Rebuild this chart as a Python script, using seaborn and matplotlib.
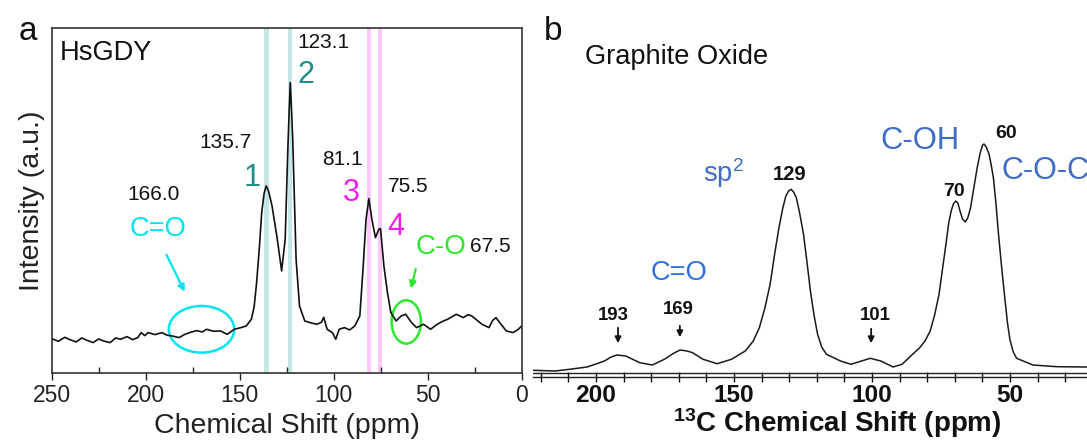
import numpy as np
import pandas as pd
import matplotlib
matplotlib.use('Agg')
import matplotlib.pyplot as plt
import seaborn as sns
from matplotlib.patches import Ellipse

# ---------------- Panel a : HsGDY spectrum ----------------
a_ppm = [250.0, 246.5, 243.0, 240.8, 237.0, 234.0, 231.7, 228.0, 225.0, 222.5,
         218.9, 216.0, 213.4, 210.0, 207.0, 204.2, 202.4, 200.5, 198.7, 195.0,
         191.4, 188.5, 185.9, 182.2, 179.5, 176.7, 173.0, 170.0, 167.6, 164.0,
         160.3, 156.6, 152.9, 149.3, 146.5, 143.8, 142.3, 141.0, 139.5, 138.3,
         137.0, 135.9, 134.6, 132.8, 130.0, 127.7, 125.8, 124.4, 123.6, 123.1,
         122.5, 121.8, 120.0, 118.2, 115.4, 112.6, 109.0, 106.5, 105.3, 103.5,
         100.7, 98.9, 97.1, 94.3, 91.5, 88.8, 86.1, 84.3, 82.8, 81.3,
         79.7, 77.8, 76.0, 75.1, 73.3, 71.4, 69.6, 66.8, 64.1, 61.7,
         58.6, 55.9, 52.2, 48.5, 44.9, 42.0, 39.4, 34.8, 31.1, 28.5,
         26.6, 23.5, 21.1, 17.4, 15.5, 13.7, 11.0, 8.2, 4.6, 1.8, 0.0]
a_int = [10.4, 9.6, 10.8, 10.2, 9.4, 10.6, 10.0, 9.2, 10.3, 9.7,
         9.2, 10.6, 10.2, 11.0, 10.1, 10.7, 12.2, 11.3, 12.2, 11.6,
         12.2, 11.4, 11.2, 10.7, 11.6, 12.2, 12.8, 12.4, 13.2, 12.6,
         12.7, 11.7, 13.2, 13.7, 14.2, 16.2, 20.0, 27.2, 38.0, 48.2,
         54.0, 56.2, 54.5, 50.2, 40.2, 30.7, 40.2, 67.2, 80.0, 87.2,
         80.0, 70.2, 34.2, 20.2, 15.7, 15.2, 14.7, 15.3, 16.8, 13.2,
         12.2, 10.2, 13.2, 13.7, 13.0, 14.2, 17.2, 32.2, 46.2, 52.4,
         46.2, 40.7, 43.2, 43.4, 32.2, 24.2, 18.2, 15.7, 17.2, 17.7,
         15.2, 13.7, 14.7, 13.2, 14.7, 15.6, 16.2, 17.7, 16.7, 17.6,
         17.2, 15.8, 14.7, 13.7, 15.8, 16.7, 14.7, 12.7, 12.2, 13.2, 14.2]
a_teal_lines = [135.7, 123.1]
a_pink_lines = [81.1, 75.5]
a_xticks = [250, 200, 150, 100, 50, 0]

# ---------------- Panel b : Graphite oxide spectrum ----------------
b_ppm = [223.0, 214.7, 209.6, 203.2, 199.5, 196.9, 194.5, 192.4, 189.2, 184.1,
         179.6, 175.2, 172.0, 169.5, 167.0, 165.0, 161.2, 156.1, 150.9, 145.9,
         143.0, 140.8, 138.8, 136.9, 135.2, 133.7, 132.3, 131.2, 130.2, 129.3,
         128.4, 127.4, 126.2, 124.8, 123.5, 122.3, 121.0, 119.7, 118.2, 116.5,
         111.4, 107.6, 103.8, 100.6, 96.8, 92.3, 89.1, 85.3, 82.7, 80.8,
         78.9, 77.3, 75.7, 74.4, 73.2, 72.2, 71.3, 70.5, 69.7, 68.9,
         68.1, 67.2, 66.2, 65.3, 64.3, 63.1, 61.9, 60.8, 59.9, 59.4,
         58.6, 57.6, 56.8, 56.0, 55.1, 54.2, 53.0, 51.8, 50.9, 50.0,
         48.8, 47.6, 41.7, 33.1, 22.1]
b_int = [2.7, 2.0, 3.7, 6.0, 9.5, 12.0, 16.0, 18.0, 17.0, 10.3,
         8.0, 13.7, 19.5, 23.0, 22.0, 20.3, 13.7, 9.3, 13.7, 22.0,
         32.0, 45.3, 65.0, 88.7, 120.0, 145.3, 165.0, 177.0, 182.0, 183.7,
         181.0, 175.3, 160.0, 138.7, 110.0, 82.0, 58.0, 38.7, 26.0, 18.7,
         12.0, 8.7, 12.0, 14.7, 12.0, 6.0, 8.7, 18.7, 25.3, 32.0,
         42.0, 58.0, 78.7, 105.0, 128.7, 150.0, 162.0, 169.0, 172.0, 170.0,
         162.0, 154.0, 151.0, 155.0, 165.0, 185.0, 205.0, 220.0, 228.0, 229.0,
         226.0, 219.0, 208.0, 195.0, 170.0, 140.0, 105.0, 73.0, 50.0, 33.0,
         21.0, 14.7, 8.0, 6.3, 6.0]
b_xticks = [200, 150, 100, 50]

sns.set_theme(style='white')
plt.rcParams['font.family'] = ['Liberation Sans', 'DejaVu Sans']
plt.rcParams['mathtext.default'] = 'regular'

W, H = 1087, 447
fig = plt.figure(figsize=(W / 100, H / 100), dpi=100)
axa = fig.add_axes([51.7 / W, (H - 373.3) / H, 470 / W, 345.8 / H])
axb = fig.add_axes([533 / W, (H - 376.5) / H, 554 / W, 348.5 / H])

# ---------------- Panel a ----------------
dfa = pd.DataFrame({'ppm': a_ppm, 'int': a_int})
for c in a_teal_lines:
    axa.axvspan(c - 1.15, c + 1.15, color='#c6e6e4', zorder=0, lw=0)
for c in a_pink_lines:
    axa.axvspan(c - 1.15, c + 1.15, color='#fbc9f7', zorder=0, lw=0)
sns.lineplot(data=dfa, x='ppm', y='int', sort=False, estimator=None,
             color='#111111', lw=1.2, ax=axa)
axa.set_xlim(250, 0)
axa.set_ylim(0, 103.7)
axa.set_xticks(a_xticks)
axa.set_xticks([225, 175, 125, 75, 25], minor=True)
axa.set_yticks([])
axa.tick_params(axis='x', which='major', direction='out', length=5, width=1,
                labelsize=16.5, pad=3, colors='#222222', bottom=True)
axa.tick_params(axis='x', which='minor', direction='in', length=4, width=1,
                bottom=True)
for s in axa.spines.values():
    s.set_visible(True)
    s.set_color('#333333')
    s.set_linewidth(1.2)
axa.set_xlabel('Chemical Shift (ppm)', fontsize=20.5, labelpad=4, color='#222222')
axa.set_ylabel('Intensity (a.u.)', fontsize=20.5, labelpad=5, color='#222222')

teal = '#1e8f8c'
mag = '#f21de8'
cyan = '#00e4f0'
green = '#2ee82e'
axa.text(0.018, 0.925, 'HsGDY', transform=axa.transAxes, fontsize=19.6,
         ha='left', va='center', color='#111111')
axa.text(119.2, 99.2, '123.1', fontsize=15, ha='left', va='center', color='#111111')
axa.text(119.2, 89.6, '2', fontsize=22, ha='left', va='center', color=teal)
axa.text(171.4, 69.2, '135.7', fontsize=15, ha='left', va='center', color='#111111')
axa.text(143.4, 58.7, '1', fontsize=22, ha='center', va='center', color=teal)
axa.text(209.9, 53.6, '166.0', fontsize=15, ha='left', va='center', color='#111111')
axa.text(208.8, 43.2, 'C=O', fontsize=19.6, ha='left', va='center', color=cyan)
axa.text(106.0, 64.1, '81.1', fontsize=15, ha='left', va='center', color='#111111')
axa.text(95.0, 54.2, '3', fontsize=22, ha='left', va='center', color=mag)
axa.text(71.4, 56.0, '75.5', fontsize=15, ha='left', va='center', color='#111111')
axa.text(71.4, 43.8, '4', fontsize=22, ha='left', va='center', color=mag)
axa.text(56.6, 37.8, 'C-O', fontsize=20, ha='left', va='center', color=green)
axa.text(27.5, 38.1, '67.5', fontsize=15, ha='left', va='center', color='#111111')
axa.annotate('', xy=(178.6, 23.7), xytext=(189.6, 36.3),
             arrowprops=dict(arrowstyle='-|>', color=cyan, lw=1.6, mutation_scale=10))
axa.annotate('', xy=(59.3, 24.6), xytext=(56.0, 32.1),
             arrowprops=dict(arrowstyle='-|>', color=green, lw=1.6, mutation_scale=10))
axa.add_patch(Ellipse((170.3, 13.2), 34.8, 14.0, fill=False, ec=cyan, lw=1.8))
axa.add_patch(Ellipse((61.4, 15.4), 15.6, 13.0, fill=False, ec=green, lw=1.8))

fig.text(19 / W, 1 - 31 / H, 'a', fontsize=24, ha='left', va='center', color='#111111')

# ---------------- Panel b ----------------
dfb = pd.DataFrame({'ppm': b_ppm, 'int': b_int})
sns.lineplot(data=dfb, x='ppm', y='int', sort=False, estimator=None,
             color='#1a1a1a', lw=1.1, ax=axb)
axb.set_xlim(222.8, 22.1)
axb.set_ylim(-3.5, 345)
axb.axhline(0, color='#222222', lw=1.0)
for k in ['left', 'right', 'top']:
    axb.spines[k].set_visible(False)
axb.spines['bottom'].set_color('#222222')
axb.spines['bottom'].set_linewidth(1.0)
axb.set_xticks(b_xticks)
axb.set_xticks([220, 210, 190, 180, 170, 160, 140, 130, 120, 110, 90, 80, 70,
                60, 40, 30], minor=True)
axb.set_yticks([])
axb.tick_params(axis='x', which='both', direction='inout', length=7, width=1,
                bottom=True, colors='#111111')
axb.tick_params(axis='x', which='major', labelsize=17.6, pad=2)
for lab in axb.get_xticklabels():
    lab.set_fontweight('bold')
axb.set_xlabel('$^{13}$C Chemical Shift (ppm)', fontsize=20, fontweight='bold',
               labelpad=0, color='#111111')
axb.xaxis.set_label_coords(0.55, -0.085)
axb.set_ylabel('')

blue = '#3d6dc4'
blue2 = '#2f6fe0'
axb.text(161.2, 200, 'sp$^2$', fontsize=19.6, ha='left', va='center', color=blue)
axb.text(129.8, 199, '129', fontsize=14.5, fontweight='bold', ha='center', va='center', color='#111111')
axb.text(180.3, 100, 'C=O', fontsize=19.6, ha='left', va='center', color=blue2)
axb.text(96.9, 232, 'C-OH', fontsize=22.3, ha='left', va='center', color=blue)
axb.text(70.3, 182, '70', fontsize=14, fontweight='bold', ha='center', va='center', color='#111111')
axb.text(51.6, 239, '60', fontsize=14, fontweight='bold', ha='center', va='center', color='#111111')
axb.text(53.0, 202, 'C-O-C', fontsize=22, ha='left', va='center', color=blue)
for lbl, xc, yl, xa, y0, y1 in [('193', 193.7, 57, 192.0, 48, 27),
                                ('169', 170.0, 64, 169.6, 50, 33),
                                ('101', 98.8, 57, 100.3, 47, 27)]:
    axb.text(xc, yl, lbl, fontsize=13.4, fontweight='bold', ha='center', va='center', color='#111111')
    axb.annotate('', xy=(xa, y1), xytext=(xa, y0),
                 arrowprops=dict(arrowstyle='-|>', color='#111111', lw=1.3, mutation_scale=9))

fig.text(544 / W, 1 - 32 / H, 'b', fontsize=24, ha='left', va='center', color='#111111')
fig.text(585 / W, 1 - 57 / H, 'Graphite Oxide', fontsize=19.6, ha='left', va='center', color='#111111')

fig.savefig('out.png', dpi=100, facecolor='white')
